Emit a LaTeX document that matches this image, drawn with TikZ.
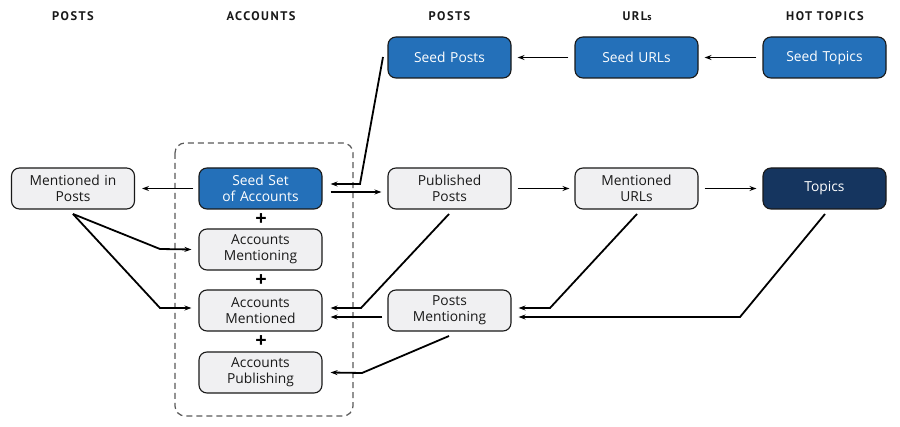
\documentclass[tikz,border=0pt]{standalone}
\usepackage{fontspec}
\setmainfont{Open Sans}
\newfontfamily\hdrfont[LetterSpace=12]{PT Sans}
\usetikzlibrary{arrows.meta}
\definecolor{seedblue}{HTML}{2470B9}
\definecolor{navy}{HTML}{15355F}
\definecolor{boxgray}{HTML}{F0F0F2}
\tikzset{
  box/.style={draw=black!90, line width=1.1pt, rounded corners=8pt, minimum width=123pt, minimum height=41pt, inner sep=1pt, align=center, font=\fontsize{13.8}{16}\selectfont, text width=120pt},
  graybox/.style={box, fill=boxgray, text=black!90},
  bluebox/.style={box, fill=seedblue, text=white},
  navybox/.style={box, fill=navy, text=white},
  hdr/.style={font=\hdrfont\bfseries\fontsize{12.5}{14}\selectfont, text=black!90},
  plus/.style={font=\bfseries\fontsize{20}{20}\selectfont, inner sep=0pt},
  conn/.style={line width=1.8pt, -{Stealth[length=7pt,width=5pt]}},
}
\begin{document}
\begin{tikzpicture}[x=1pt,y=-1pt]
\useasboundingbox (0,0) rectangle (900,427);
% headers
\node[hdr] (h1) at (73,16) {POSTS};
\node[hdr] (h2) at (261,16) {ACCOUNTS};
\node[hdr] (h3) at (449.5,16) {POSTS};
\node[hdr] (h4) at (637,16) {URL{\fontsize{10}{11}\selectfont s}};
\node[hdr] (h5) at (825,16) {HOT TOPICS};
% dashed group
\draw[dash pattern=on 6pt off 4pt, line width=1.2pt, black!65, rounded corners=10pt] (175,143) rectangle (353,416);
% top row
\node[bluebox] (sp) at (449.5,57.5) {Seed Posts};
\node[bluebox] (su) at (636.5,57.5) {Seed URLs};
\node[bluebox] (st) at (824.5,57.5) {Seed Topics};
% middle row
\node[graybox] (mip) at (73,188.5) {Mentioned in\\Posts};
\node[bluebox] (ssa) at (260.5,188.5) {Seed Set\\of Accounts};
\node[graybox] (pp) at (449.5,188.5) {Published\\Posts};
\node[graybox] (mu) at (636.5,188.5) {Mentioned\\URLs};
\node[navybox] (tp) at (824.5,188.5) {Topics};
% account column
\node[graybox] (amg) at (260.5,249.5) {Accounts\\Mentioning};
\node[graybox] (amd) at (260.5,310.5) {Accounts\\Mentioned};
\node[graybox] (apb) at (260.5,372.5) {Accounts\\Publishing};
\node[graybox] (pm) at (449.5,310.5) {Posts\\Mentioning};
% plus signs
\node[plus] (p1) at (261,219.5) {+};
\node[plus] (p2) at (261,280.5) {+};
\node[plus] (p3) at (261,341.5) {+};
% coordinates
\coordinate (a1) at (383,57);
\coordinate (a2) at (360,184);
\coordinate (b1) at (160,249);
\coordinate (b2) at (160,308);
\coordinate (c1) at (449,214);
\coordinate (c2) at (361,308);
\coordinate (d1) at (449,336);
\coordinate (d2) at (362,373);
\coordinate (e1) at (637,214);
\coordinate (e2) at (550,308);
\coordinate (f1) at (825,214);
\coordinate (f2) at (740,317);
\coordinate (g1) at (73,214);
% arrows top
\draw[conn] ([xshift=-6pt]su.west) -- ([xshift=6pt]sp.east);
\draw[conn] ([xshift=-6pt]st.west) -- ([xshift=6pt]su.east);
\draw[conn] (a1) -- (a2) -- ([xshift=8pt,yshift=4.5pt]ssa.east);
% arrows middle
\draw[conn] ([xshift=-5pt]ssa.west) -- ([xshift=7pt]mip.east);
\draw[conn] ([xshift=8pt,yshift=-3.5pt]ssa.east) -- ([xshift=-6pt,yshift=-3.5pt]pp.west);
\draw[conn] ([xshift=6pt]pp.east) -- ([xshift=-5pt]mu.west);
\draw[conn] ([xshift=6pt]mu.east) -- ([xshift=-6pt]tp.west);
% from mentioned in posts
\draw[conn] (g1) -- (b1) -- ([xshift=-7pt]amg.west);
\draw[conn] (g1) -- (b2) -- ([xshift=-7pt,yshift=2.5pt]amd.west);
% into accounts mentioned
\draw[conn] (c1) -- (c2) -- ([xshift=8pt,yshift=2.5pt]amd.east);
\draw[conn] ([xshift=-5pt,yshift=-6.5pt]pm.west) -- ([xshift=8pt,yshift=-6.5pt]amd.east);
\draw[conn] (d1) -- (d2) -- ([xshift=8pt]apb.east);
% into posts mentioning
\draw[conn] (e1) -- (e2) -- ([xshift=7pt,yshift=2.5pt]pm.east);
\draw[conn] (f1) -- (f2) -- ([xshift=7pt,yshift=-6.5pt]pm.east);
\end{tikzpicture}
\end{document}
